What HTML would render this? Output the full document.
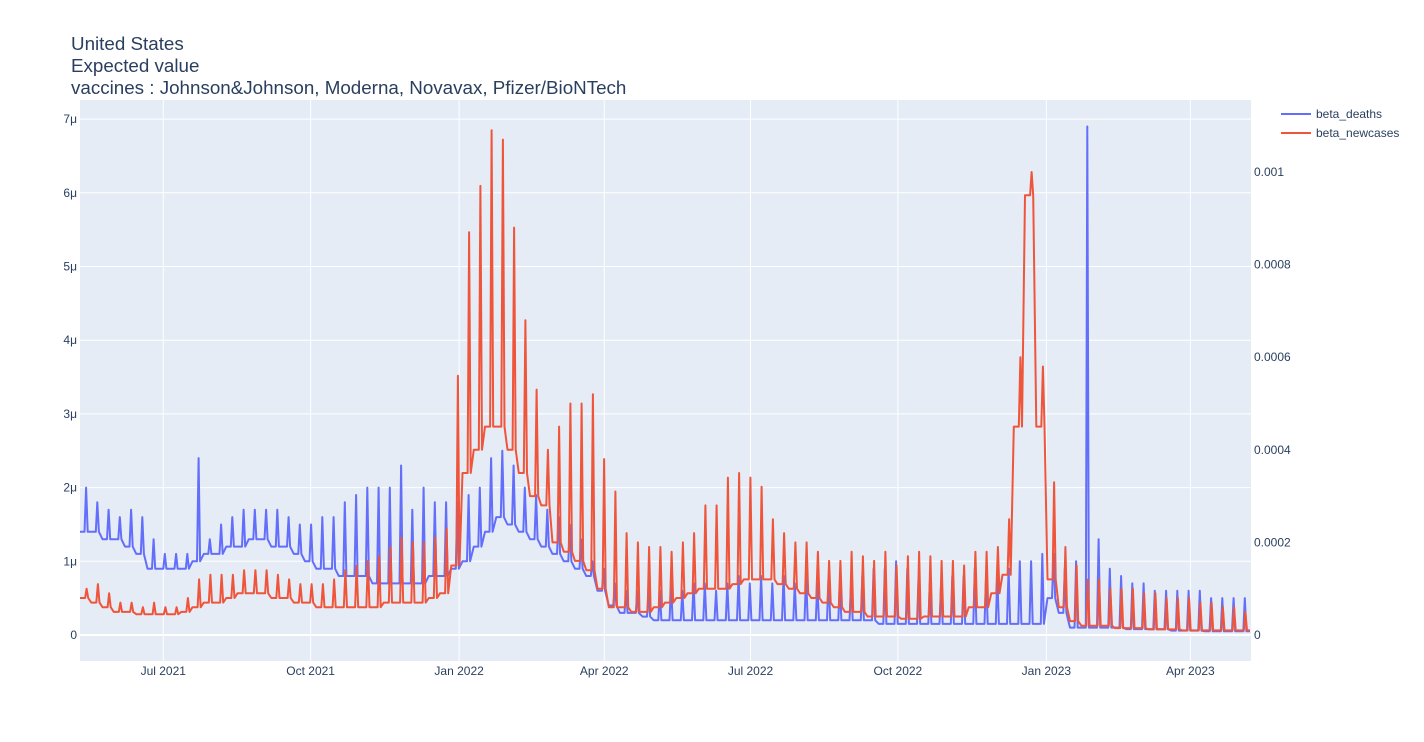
<!DOCTYPE html>
<html><head><meta charset="utf-8">
<style>
html,body{margin:0;padding:0;background:#fff;width:1424px;height:742px;overflow:hidden}
text{font-family:"Liberation Sans",Arial,sans-serif;fill:#2a3f5f}
</style></head>
<body>
<svg id="chart" width="1424" height="742">
  <rect x="80" y="100" width="1171" height="561" fill="#e5ecf6"/>
  <g id="grid"></g>
  <g id="series"></g>
  <g id="axes"></g>
  <text x="71" y="50" font-size="18.8">United States</text>
  <text x="71" y="72" font-size="18.8">Expected value</text>
  <text x="71" y="94" font-size="18.8">vaccines : Johnson&amp;Johnson, Moderna, Novavax, Pfizer/BioNTech</text>
  <g>
    <g>
      <line x1="1281" y1="114" x2="1311" y2="114" stroke="#636efa" stroke-width="2"/>
      <text x="1316" y="118" font-size="12">beta_deaths</text>
    </g>
    <g>
      <line x1="1281" y1="133" x2="1311" y2="133" stroke="#EF553B" stroke-width="2"/>
      <text x="1316" y="137" font-size="12">beta_newcases</text>
    </g>
  </g>
</svg>
<script>
// weekly data, week 0 starts 2021-05-10
const blueBase=[1.4,1.4,1.3,1.3, 1.2,1.1,0.9,0.9, 0.9,0.9,1.0,
1.1,1.1,1.2,1.2,1.3,1.3,1.2,1.2,1.1,1.0,
0.9,0.9,0.8,0.8,0.8,0.7,0.7,0.7,0.7,0.7,0.8,0.8,0.9,
1.0,1.2,1.4,1.6,1.5,1.4,1.3,
1.2,1.1,1.0,0.9,0.8,0.6,
0.4,0.3,0.3,0.25,0.2,0.2,0.2,0.2,0.2,
0.2,0.2,0.2,0.2,0.2,0.2,0.2,0.2,0.2,0.2,0.2,0.2,0.2,0.2,0.2,
0.15,0.15,0.15,0.15,0.15,0.15,0.15,0.15,0.15,0.15,0.15,0.15,0.15,0.15,0.15,
0.5,0.3,0.1,
0.1,0.1,0.1,0.1,0.08,0.08,0.08,0.08,0.06,0.06,0.06,0.05,0.05,0.05,0.05];
const bluePeak=[2.0,1.8,1.7,1.6, 1.7,1.6,1.3,1.1, 1.1,1.1,2.4,
1.3,1.5,1.6,1.7,1.7,1.7,1.7,1.6,1.5,1.5,
1.6,1.6,1.8,1.9,2.0,2.0,2.0,2.3,1.7,2.0,1.8,1.8,1.8,
1.9,2.0,2.4,2.5,2.3,2.0,1.9,
1.7,1.6,1.5,1.3,1.0,0.9,
0.7,0.6,0.6,0.6,0.6,0.7,0.6,0.7,0.7,
0.6,0.7,0.8,0.7,0.8,0.7,0.8,0.7,0.8,0.7,0.8,0.7,0.7,0.8,0.9,0.9,1.0,0.9,0.8,0.7,0.7,0.8,0.8,0.9,0.8,0.8,0.9,1.0,1.0,1.1,
1.1,0.9,1.0,
6.9,1.3,0.9,0.8,0.7,0.7,0.6,0.6,0.6,0.6,0.6,0.5,0.5,0.5,0.5];
const redBase=[0.8,0.7,0.6,0.5,0.5,0.45,0.45,0.45,0.45,0.5,0.6,
0.7,0.7,0.8,0.9,0.9,0.9,0.8,0.8,0.7,0.7,
0.6,0.6,0.6,0.6,0.6,0.6,0.7,0.7,0.7,0.7,0.8,0.9,1.5,
3.5,4.0,4.5,4.5,4.0,3.5,3.0,
2.8,2.0,1.8,1.6,1.4,1.0,
0.6,0.6,0.5,0.5,0.6,0.7,0.8,0.9,1.0,
1.0,1.0,1.1,1.2,1.2,1.2,1.1,1.0,0.9,0.8,0.7,
0.6,0.5,0.5,0.4,0.4,0.4,0.35,0.35,0.4,0.4,0.4,0.4,0.6,
0.6,0.9,1.3,4.5,9.5,4.5,
1.2,0.6,0.3,
0.2,0.2,0.2,0.15,0.15,0.15,0.12,0.12,0.12,0.1,0.1,0.1,0.1,0.1,0.1];
const redPeak=[1.0,1.1,0.9,0.7,0.7,0.6,0.7,0.6,0.6,0.8,1.2,
1.3,1.3,1.3,1.4,1.4,1.4,1.3,1.2,1.1,1.1,
1.1,1.2,1.4,1.5,1.6,1.7,1.9,2.1,2.0,2.0,2.1,2.3,5.6,
8.7,9.7,10.9,10.7,8.8,6.8,5.3,
4.0,4.5,5.0,5.0,5.2,3.8,
3.1,2.2,2.0,1.9,1.9,1.8,2.0,2.2,2.8,
2.8,3.4,3.5,3.4,3.2,2.5,2.2,2.0,2.0,1.8,1.6,
1.6,1.8,1.7,1.6,1.8,1.5,1.7,1.8,1.7,1.6,1.6,1.5,1.8,
1.8,1.9,2.5,6.0,10.0,5.8,
3.3,1.9,1.5,
1.2,1.2,1.0,1.0,1.0,0.9,0.9,0.8,0.8,0.8,0.7,0.7,0.6,0.6,0.5];
const leftTicks=[0,1,2,3,4,5,6,7];
const leftLabels=["0","1μ","2μ","3μ","4μ","5μ","6μ","7μ"];
const rightTicks=[0,2,4,6,8,10];
const rightLabels=["0","0.0002","0.0004","0.0006","0.0008","0.001"];
const xTickWeeks=[7.4,20.5,33.7,46.6,59.6,72.7,85.9,98.7];
const xLabels=["Jul 2021","Oct 2021","Jan 2022","Apr 2022","Jul 2022","Oct 2022","Jan 2023","Apr 2023"];

const NS="http://www.w3.org/2000/svg";
const xw=k=>80+k*11.25;
const yL=v=>635-v*73.7;
const yR=v=>635-v*46.3;
function mk(tag,attrs,parent){const e=document.createElementNS(NS,tag);for(const k in attrs)e.setAttribute(k,attrs[k]);parent.appendChild(e);return e;}
const grid=document.getElementById('grid'),axes=document.getElementById('axes'),series=document.getElementById('series');

leftTicks.forEach((t,i)=>{
  const l=mk('line',{x1:80,x2:1251,y1:yL(t),y2:yL(t),stroke:'#fff','stroke-width':t===0?2:1},grid);
  
  
  const tx=mk('text',{x:77,y:yL(t)+4,'font-size':12,'text-anchor':'end'},axes);
  tx.textContent=leftLabels[i];
  
  
});
rightTicks.forEach((t,i)=>{
  const tx=mk('text',{x:1254,y:yR(t)+4,'font-size':12},axes);
  tx.textContent=rightLabels[i];
  
  
});
xTickWeeks.forEach((w,i)=>{
  const l=mk('line',{x1:xw(w),x2:xw(w),y1:100,y2:661,stroke:'#fff','stroke-width':1},grid);
  
  
  const tx=mk('text',{x:xw(w),y:675,'font-size':12,'text-anchor':'middle'},axes);
  tx.textContent=xLabels[i];
  
  
});

function build(base,peak,yf,off){
  const pts=[];
  for(let k=0;k<base.length;k++){
    pts.push([xw(k),yf(base[k])]);
    pts.push([xw(k+off),yf(base[k])]);
    pts.push([xw(k+off+0.14),yf(peak[k])]);
    pts.push([xw(k+off+0.28),yf(base[k])]);
  }
  pts.push([xw(base.length),yf(base[base.length-1])]);
  return pts.filter(p=>p[0]<=1251).map(p=>p[0].toFixed(1)+','+p[1].toFixed(1)).join(' ');
}
const bl=mk('polyline',{points:build(blueBase,bluePeak,yL,0.4),fill:'none',stroke:'#636efa','stroke-width':2,'stroke-linejoin':'round'},series);


const rl=mk('polyline',{points:build(redBase,redPeak,yR,0.45),fill:'none',stroke:'#EF553B','stroke-width':2,'stroke-linejoin':'round'},series);


</script>
</body></html>
